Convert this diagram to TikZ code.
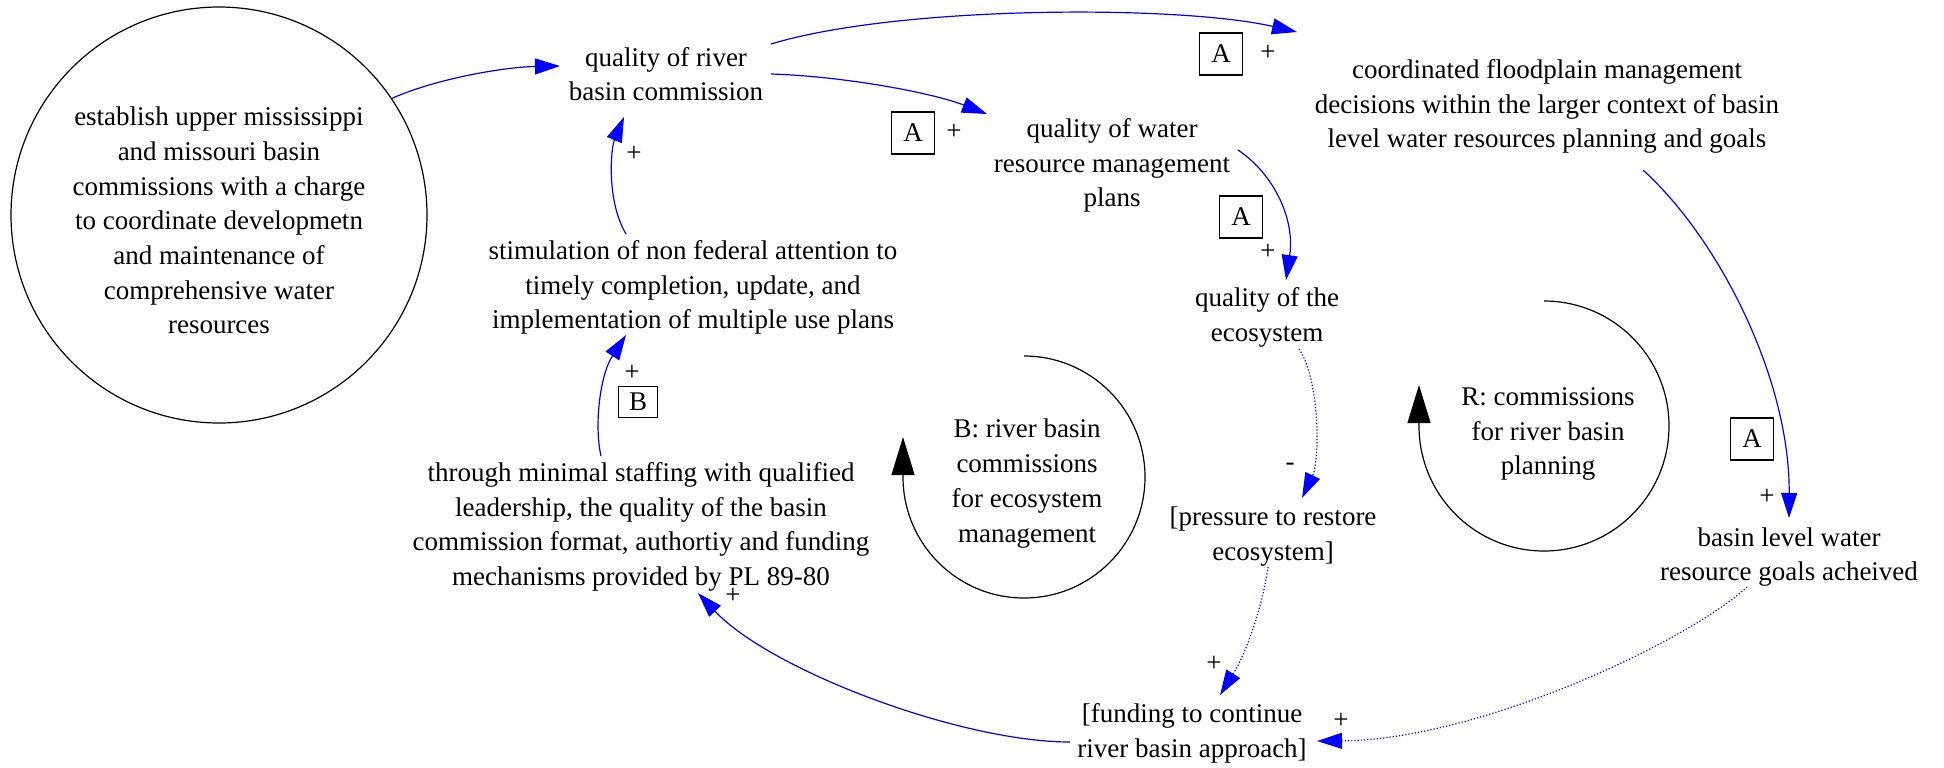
\documentclass[tikz,border=0pt]{standalone}
\usepackage{fontspec}
\setmainfont{Liberation Serif}
\usetikzlibrary{arrows.meta,calc,shapes.geometric}
\newcommand\DiagFont{\fontsize{13.5}{17.35}\selectfont}
\tikzset{
  var/.style={
    align = center,
    inner sep = 0pt,
    font = \DiagFont
  },
  initiative/.style={
    shape = circle,
    draw,
    line width = 0.6pt,
    minimum size = 208pt,
    align = center,
    inner sep = 0pt,
    font = \DiagFont
  },
  link/.style={
    draw = blue,
    line width = 0.6pt,
    -{Triangle[length=12.5pt,width=8pt]}
  },
  weaklink/.style={
    link,
    densely dotted
  },
  polarity/.style={
    font = \DiagFont,
    inner sep = 0pt
  },
  delay/.style={
    draw,
    line width = 0.6pt,
    font = \DiagFont,
    inner sep = 0pt,
    minimum width = 21.5pt,
    minimum height = 21pt
  },
  loopline/.style={
    draw = black,
    line width = 0.6pt,
    -{Triangle[length=19pt,width=11.5pt]}
  }
}
\begin{document}
\begin{tikzpicture}[x=0.5pt, y=-0.5pt]
    \useasboundingbox (0,0) rectangle (1944,767);

    % variables
    \node[initiative] (est) at (219,215) {\rule{0pt}{15pt}establish upper mississippi\\and missouri basin\\commissions with a charge\\to coordinate developmetn\\and maintenance of\\comprehensive water\\resources};
    \node[var] (qriver) at (666,74) {quality of river\\basin commission};
    \node[var] (stim) at (693,287.5) {stimulation of non federal attention to\\timely completion, update, and\\implementation of multiple use plans};
    \node[var] (thru) at (641,527) {through minimal staffing with qualified\\leadership, the quality of the basin\\commission format, authortiy and funding\\mechanisms provided by PL 89-80};
    \node[var] (qwater) at (1112,165.5) {quality of water\\resource management\\plans};
    \node[var] (coord) at (1547,106.5) {coordinated floodplain management\\decisions within the larger context of basin\\level water resources planning and goals};
    \node[var] (qeco) at (1267,317.5) {quality of the\\ecosystem};
    \node[var] (press) at (1273,536.5) {[pressure to restore\\ecosystem]};
    \node[var] (fund) at (1192,733.5) {[funding to continue\\river basin approach]};
    \node[var] (goals) at (1789,557) {basin level water\\resource goals acheived};

    % loops
    \node[var] (loopB) at (1027,483.5) {B: river basin\\commissions\\for ecosystem\\management};
    \node[var] (loopR) at (1548,434) {R: commissions\\for river basin\\planning};
    \draw[loopline] (1024,356) arc[start angle=90, end angle=-180, radius=60.5pt] -- (903,437);
    \draw[loopline] (1544,301) arc[start angle=90, end angle=-180, radius=62.5pt] -- (1419,385);

    % links
    \draw[link] (est.34) .. controls +(45,-20) and +(-55,1) .. ($(qriver)+(-106,-8)$);
    \draw[link] ($(qriver)+(105,-30)$) .. controls +(129,-39) and +(-117,-27) .. ($(coord)+(-250,-74.5)$);
    \draw[link] ($(qriver)+(105,0)$) .. controls +(69,2) and +(-57,-22) .. ($(qwater)+(-125,-51.5)$);
    \draw[link] ($(stim)+(-67,-53.5)$) .. controls +(-20,-34) and +(-13,31) .. ($(qriver)+(-42,43)$);
    \draw[link] ($(thru)+(-40,-71)$) .. controls +(-7,-31) and +(-26,40) .. ($(stim)+(-67,47.5)$);
    \draw[link] ($(fund)+(-122,8.5)$) .. controls +(-110,0) and +(72,77) .. ($(thru)+(57,66)$);
    \draw[link] ($(qwater)+(126,-15.5)$) .. controls +(37,25) and +(9,-60) .. ($(qeco)+(19,-37.5)$);
    \draw[weaklink] ($(qeco)+(32,31.5)$) .. controls +(21,31) and +(18,-38) .. ($(press)+(29,-38.5)$);
    \draw[weaklink] ($(press)+(-5,30.5)$) .. controls +(-6,43) and +(25,-40) .. ($(fund)+(28,-38.5)$);
    \draw[weaklink] ($(goals)+(-42,30)$) .. controls +(-57,53) and +(163,-1) .. ($(fund)+(125,7.5)$);
    \draw[link] ($(coord)+(96,63.5)$) .. controls +(77,70) and +(1,-138) .. ($(goals)+(0,-39)$);

    % delays and polarities
    \node[delay] (dWater) at (913,133) {A};
    \node[polarity] (pWater) at (954,132) {+};
    \node[delay] (dCoord) at (1221,54) {A};
    \node[polarity] (pCoord) at (1268,53) {+};
    \node[delay] (dEco) at (1241,217) {A};
    \node[polarity] (pEco) at (1268,252) {+};
    \node[delay] (dGoals) at (1752,439) {A};
    \node[polarity] (pGoals) at (1767,497) {+};
    \node[polarity] (pRiver) at (634,154) {+};
    \node[polarity] (pStim) at (632,373) {+};
    \node[delay, minimum width = 19.5pt, minimum height = 15.5pt] (dStim) at (638,402) {B};
    \node[polarity] (pThru) at (733,596) {+};
    \node[polarity] (pPress) at (1290,467) {-};
    \node[polarity] (pFund) at (1214,664) {+};
    \node[polarity] (pGoalsFund) at (1341,721) {+};
\end{tikzpicture}
\end{document}
